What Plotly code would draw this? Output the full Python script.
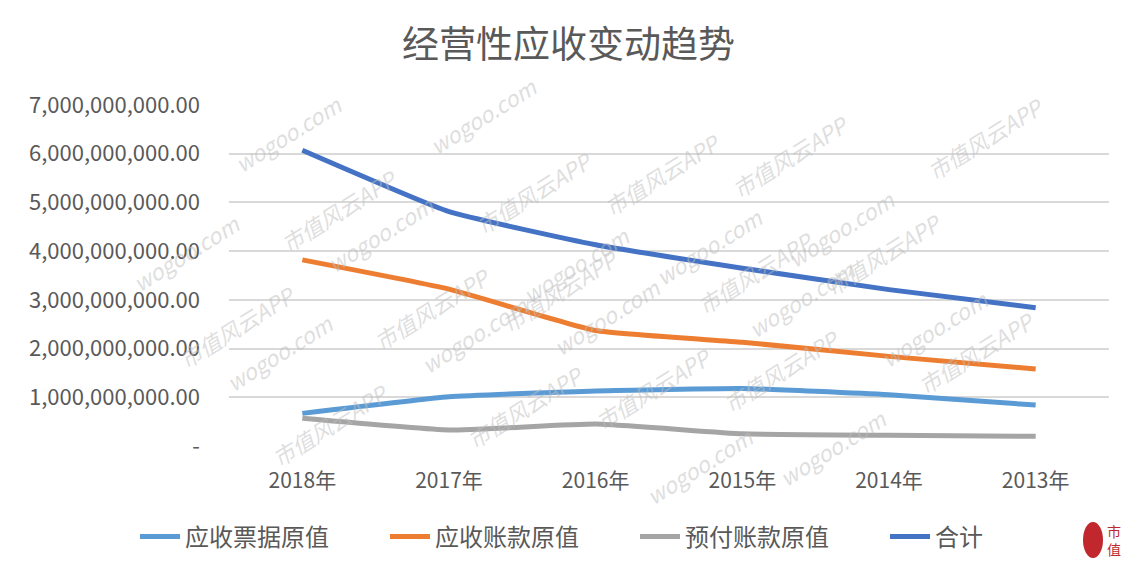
import plotly.graph_objects as go
import numpy as np

years = ["2018年", "2017年", "2016年", "2015年", "2014年", "2013年"]
notes_receivable = [0.67e9, 1.01e9, 1.13e9, 1.18e9, 1.05e9, 0.84e9]
accounts_receivable = [3.82e9, 3.22e9, 2.37e9, 2.13e9, 1.84e9, 1.58e9]
prepayments = [0.57e9, 0.33e9, 0.45e9, 0.25e9, 0.22e9, 0.20e9]
total = [6.07e9, 4.81e9, 4.13e9, 3.65e9, 3.21e9, 2.84e9]

series_names = ["应收票据原值", "应收账款原值", "预付账款原值", "合计"]
series_values = [notes_receivable, accounts_receivable, prepayments, total]
series_colors = ["#5B9BD5", "#ED7D31", "#A5A5A5", "#4472C4"]

tick_vals = [0, 1e9, 2e9, 3e9, 4e9, 5e9, 6e9, 7e9]
tick_text = ["-", "1,000,000,000.00", "2,000,000,000.00", "3,000,000,000.00",
             "4,000,000,000.00", "5,000,000,000.00", "6,000,000,000.00", "7,000,000,000.00"]

W, H = 1137, 573
ML, MR, MT, MB = 229, 28, 105, 127
PW, PH = W - ML - MR, H - MT - MB
FONT = "Noto Sans CJK SC"


def px2paper(px, py):
    return (px - ML) / PW, (H - MB - py) / PH


fig = go.Figure()
for name, vals, col in zip(series_names, series_values, series_colors):
    fig.add_trace(go.Scatter(
        x=years, y=vals, name=name, mode="lines",
        line=dict(color=col, width=5, shape="spline", smoothing=0.4),
    ))

# watermark lattice (decoration)
ann = []
ang = np.deg2rad(32)
ux, uy = np.cos(ang), -np.sin(ang)
vx, vy = np.sin(ang), np.cos(ang)
texts = ["市值风云APP", "wogoo.com"]
for i in range(-14, 15):
    for j in range(-14, 15):
        px = 560 + i * 175 * ux + j * 88 * vx
        py = 290 + i * 175 * uy + j * 88 * vy
        if 80 < px < W - 80 and 50 < py < H - 50:
            ax, ay = px2paper(px, py)
            ann.append(dict(
                x=ax, y=ay, xref="paper", yref="paper",
                text="<i>" + texts[(i + j) % 2] + "</i>", showarrow=False, textangle=-32,
                font=dict(family=FONT, size=22, color="rgba(190,190,190,0.5)"),
            ))

# small logo bottom-right
lx, ly = px2paper(1114, 540)
ann.append(dict(x=lx, y=ly, xref="paper", yref="paper", xanchor="center", yanchor="middle",
                text="市<br>值", showarrow=False,
                font=dict(family=FONT, size=14, color="#C0282D")))
c0 = px2paper(1083, 558)
c1 = px2paper(1103, 522)

fig.update_layout(
    width=W, height=H,
    paper_bgcolor="white", plot_bgcolor="white",
    margin=dict(l=ML, r=MR, t=MT, b=MB, autoexpand=False),
    title=dict(text="经营性应收变动趋势", x=0.5, xanchor="center", y=1 - 45 / H, yanchor="middle",
               font=dict(family=FONT, size=37, color="#595959")),
    font=dict(family=FONT, color="#595959"),
    xaxis=dict(range=[-0.5, 5.5], showgrid=False, zeroline=False, showline=False, ticks="",
               tickfont=dict(family=FONT, size=21, color="#595959"), ticklabelstandoff=20),
    yaxis=dict(range=[0, 7e9], tickvals=tick_vals, ticktext=tick_text,
               showgrid=True, gridcolor="#D9D9D9", gridwidth=2, zeroline=False,
               tickfont=dict(family=FONT, size=22, color="#595959"), ticks="", ticklabelstandoff=28),
    legend=dict(orientation="h", x=(135 - ML) / PW, xanchor="left", y=(446 - 537) / PH, yanchor="middle",
                font=dict(family=FONT, size=24, color="#595959"), itemwidth=40,
                entrywidth=195, entrywidthmode="pixels",
                traceorder="normal", bgcolor="rgba(0,0,0,0)"),
    showlegend=True,
    annotations=ann,
    shapes=[dict(type="circle", xref="paper", yref="paper",
                 x0=c0[0], x1=c1[0], y0=c0[1], y1=c1[1],
                 fillcolor="#C0282D", line=dict(width=0))],
)

fig.write_html("out.html")
